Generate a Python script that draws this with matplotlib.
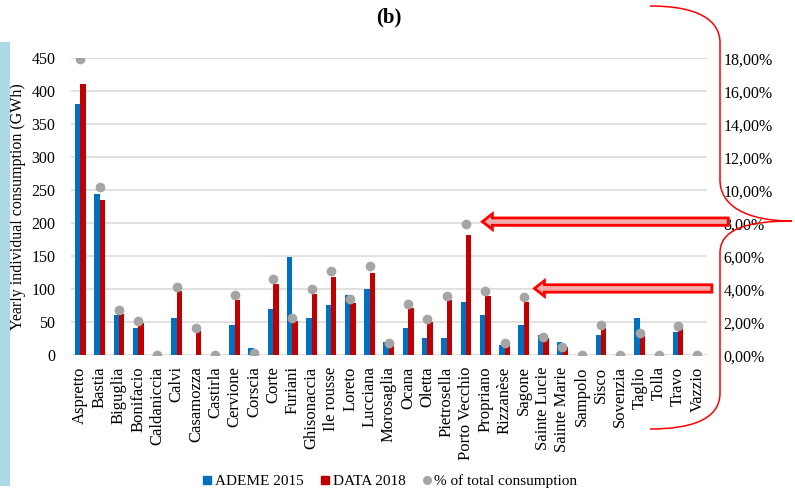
import numpy as np
import matplotlib
matplotlib.use("Agg")
import matplotlib.pyplot as plt
from matplotlib.path import Path
from matplotlib.patches import PathPatch, Polygon, Rectangle
from matplotlib.lines import Line2D
from matplotlib.colors import LinearSegmentedColormap

plt.rcParams['font.family'] = ['Liberation Serif', 'DejaVu Serif']

# ---- data ----
communes = ["Aspretto", "Bastia", "Biguglia", "Bonifacio", "Caldaniccia", "Calvi",
            "Casamozza", "Castirla", "Cervione", "Corscia", "Corte", "Furiani",
            "Ghisonaccia", "Ile rousse", "Loreto", "Lucciana", "Morosaglia", "Ocana",
            "Oletta", "Pietrosella", "Porto Vecchio", "Propriano", "Rizzanèse", "Sagone",
            "Sainte Lucie", "Sainte Marie", "Sampolo", "Sisco", "Sovenzia", "Taglio",
            "Tolla", "Travo", "Vazzio"]
ademe_2015 = [381, 245, 61, 41, 0, 56, 0, 0, 45.5, 10.5, 70, 149, 56, 76, 91, 101,
              20.5, 41, 26, 26, 81, 60.5, 15, 46, 31, 20.5, 0, 31, 0, 56, 0, 36, 0]
data_2018 = [411.5, 235, 63, 49, 0, 97, 38, 0, 84, 4, 107.5, 52, 93, 118, 79, 124.5,
             17, 72, 50.5, 84, 182, 90, 17, 81, 26, 13, 0, 42, 0, 32, 0, 41, 0]
share_pct = [17.97, 10.22, 2.75, 2.10, 0, 4.16, 1.67, 0, 3.64, 0.16, 4.64, 2.24, 4.00,
             5.13, 3.41, 5.43, 0.75, 3.11, 2.18, 3.61, 7.94, 3.92, 0.75, 3.52, 1.11,
             0.52, 0, 1.84, 0, 1.37, 0, 1.80, 0]
left_ticks = list(range(0, 451, 50))
right_ticks = list(range(0, 19, 2))

BLUE = "#0070C0"
RED = "#C00000"
GREY = "#A5A5A5"
W, H = 795, 497

fig = plt.figure(figsize=(W / 100, H / 100), dpi=100)
fig.patch.set_facecolor("white")

# light blue strip on the left edge
fig.patches.append(Rectangle((0, 1 - 486 / H), 10 / W, (486 - 42) / H,
                             transform=fig.transFigure, facecolor="#ADD8E6",
                             edgecolor="none", zorder=0))

ax = fig.add_axes([70.7 / W, 1 - 355.3 / H, (707 - 70.7) / W, (355.3 - 58.3) / H])
x = np.arange(len(communes))
bw = 0.28
ax.bar(x - bw / 2, ademe_2015, width=bw, color=BLUE, zorder=3)
ax.bar(x + bw / 2, data_2018, width=bw, color=RED, zorder=3)
ax.set_xlim(-0.5, len(communes) - 0.5)
ax.set_ylim(0, 450)
ax.set_yticks(left_ticks)
ax.yaxis.grid(True, color="#D9D9D9", lw=1.1, zorder=0)
ax.set_axisbelow(True)
for s in ax.spines.values():
    s.set_visible(False)
ax.set_xticks(x)
ax.set_xticklabels(communes, rotation=90, fontsize=12)
ax.tick_params(axis="x", length=0, pad=8)
ax.tick_params(axis="y", length=0, pad=11, labelsize=11.5)
ax.set_ylabel("Yearly individual consumption (GWh)", fontsize=11.5, labelpad=4)

ax2 = ax.twinx()
ax2.plot(x, share_pct, linestyle="none", marker="o", markersize=6,
         color=GREY, zorder=4)
ax2.set_ylim(0, 18)
ax2.set_yticks(right_ticks)
ax2.set_yticklabels([f"{v:.2f}".replace(".", ",") + "%" for v in right_ticks])
ax2.tick_params(axis="y", length=0, pad=12, labelsize=11.5)
for s in ax2.spines.values():
    s.set_visible(False)

fig.text((70.7 + 707) / 2 / W, 1 - 17 / H, "(b)", ha="center", va="center",
         fontsize=15, fontweight="bold")

handles = [Line2D([], [], marker="s", linestyle="none", color=BLUE, markersize=5.5),
           Line2D([], [], marker="s", linestyle="none", color=RED, markersize=5.5),
           Line2D([], [], marker="o", linestyle="none", color=GREY, markersize=5.5)]
fig.legend(handles, ["ADEME 2015", "DATA 2018", "% of total consumption"],
           loc="center", bbox_to_anchor=(390 / W, 1 - 481 / H), ncol=3,
           frameon=False, fontsize=11, handlelength=0.6, handletextpad=0.2,
           columnspacing=1.1)

# ---- overlay in pixel coordinates for the annotations ----
ov = fig.add_axes([0, 0, 1, 1], zorder=10)
ov.axis("off")
ov.patch.set_alpha(0)


def to_px(xd, yd):
    return ax2.transData.transform((xd, yd))


grad = np.linspace(0, 1, 64).reshape(-1, 1)
pink = LinearSegmentedColormap.from_list("pink", ["#F2898A", "#FBD3D3"])


def block_arrow(tip, tail_x):
    tx, ty = tip
    hl, hh, sh = 10, 7.8, 3.7
    pts = [(tx, ty), (tx + hl, ty + hh), (tx + hl, ty + sh), (tail_x, ty + sh),
           (tail_x, ty - sh), (tx + hl, ty - sh), (tx + hl, ty - hh)]
    poly = Polygon(pts, closed=True, facecolor="none", edgecolor="#FF0000",
                   lw=2.0, joinstyle="miter", zorder=11)
    ov.add_patch(poly)
    im = ov.imshow(grad, cmap=pink, aspect="auto", origin="lower",
                   extent=(tx, tail_x, ty - hh, ty + hh), zorder=10)
    im.set_clip_path(poly)


pv = communes.index("Porto Vecchio")
tip1 = to_px(pv + 0.85, 8.1)
tail1 = to_px(33.6, 8.1)[0]
block_arrow(tip1, tail1)

sg = communes.index("Sagone")
tip2 = to_px(sg + 0.55, 4.05)
tail2 = to_px(32.75, 4.05)[0]
block_arrow(tip2, tail2)
ov.set_xlim(0, W)
ov.set_ylim(0, H)


def fy(y):
    return H - y


verts = [(650, fy(6)),
         (698, fy(6)), (720, fy(20)), (720, fy(43)),
         (720, fy(180)),
         (720, fy(205)), (745, fy(221)), (792, fy(221)),
         (745, fy(221)), (720, fy(230)), (720, fy(253)),
         (720, fy(393)),
         (720, fy(420)), (690, fy(429)), (650, fy(429))]
codes = [Path.MOVETO,
         Path.CURVE4, Path.CURVE4, Path.CURVE4,
         Path.LINETO,
         Path.CURVE4, Path.CURVE4, Path.CURVE4,
         Path.CURVE4, Path.CURVE4, Path.CURVE4,
         Path.LINETO,
         Path.CURVE4, Path.CURVE4, Path.CURVE4]
ov.add_patch(PathPatch(Path(verts, codes), facecolor="none", edgecolor="#FF0000",
                       lw=1.1, zorder=12))

fig.savefig("out.png", dpi=100, facecolor="white")
